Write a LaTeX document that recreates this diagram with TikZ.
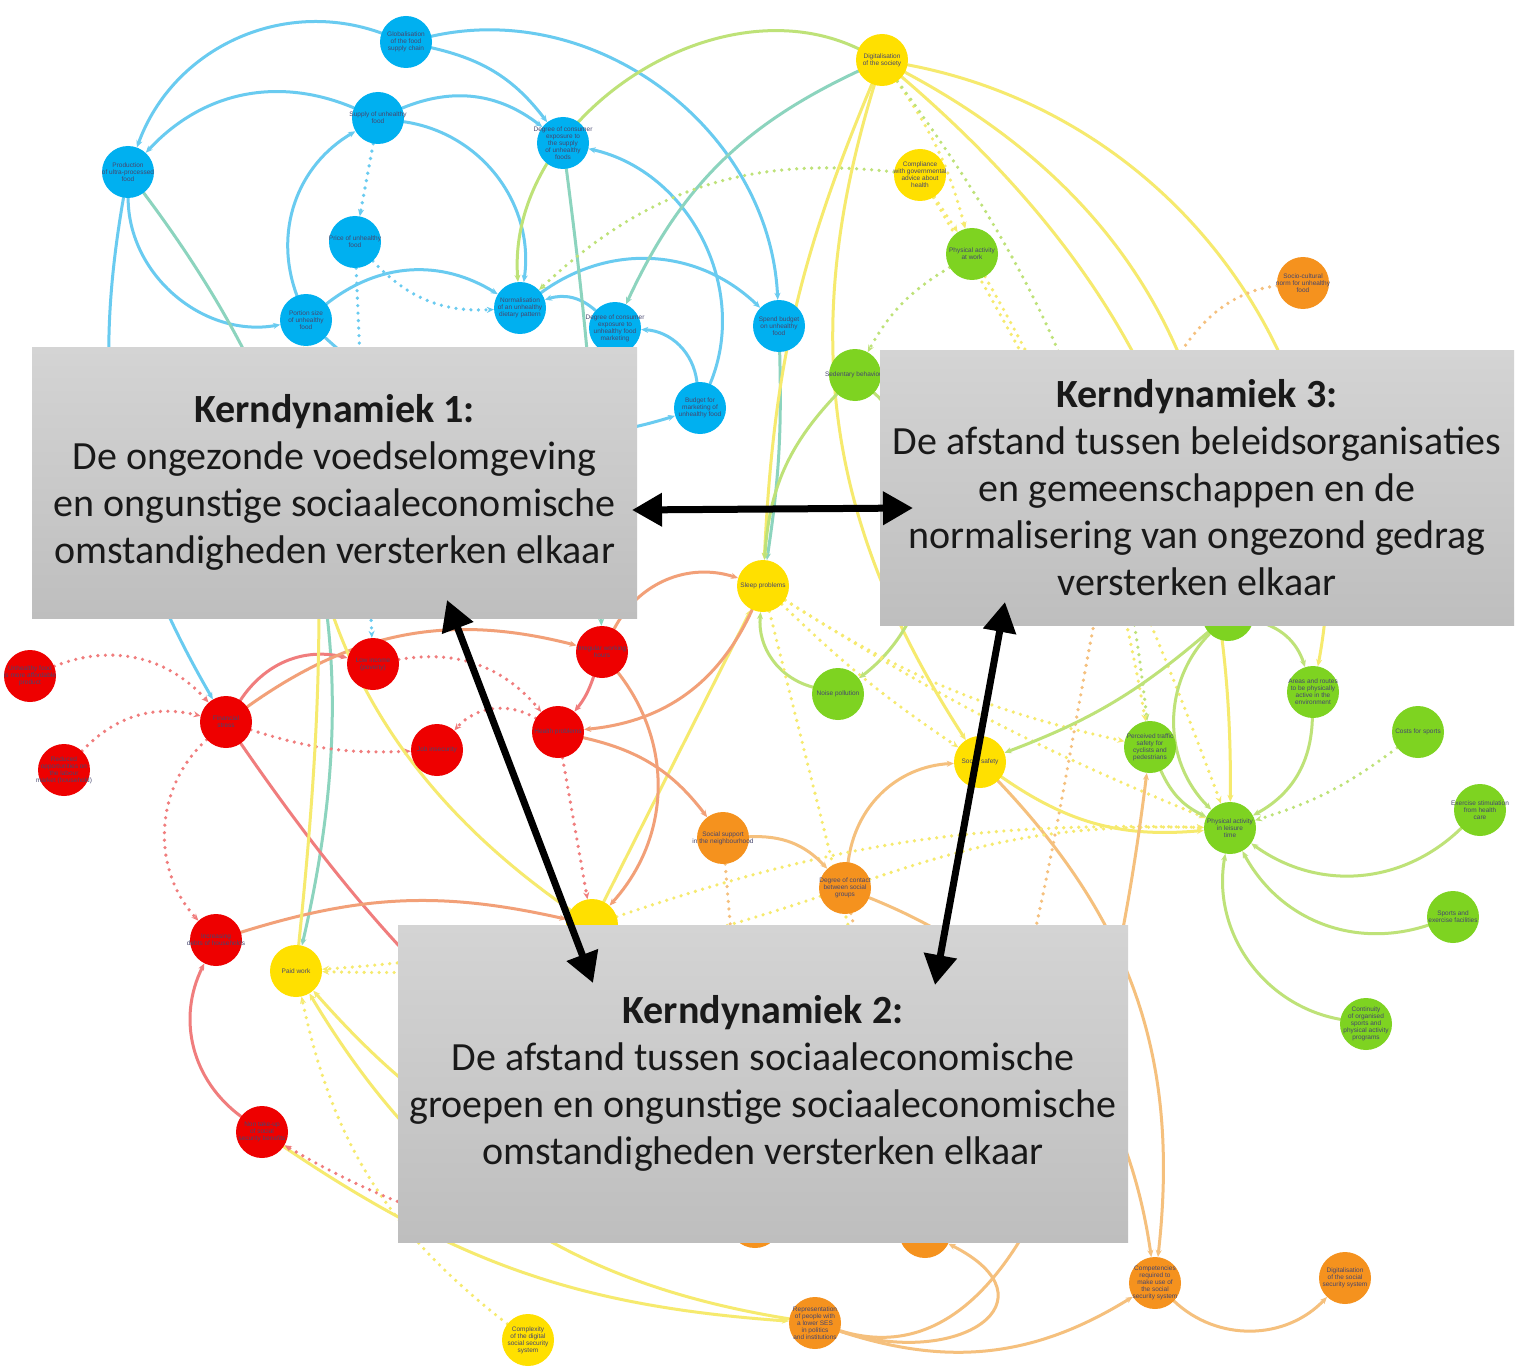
\documentclass[tikz,border=0pt]{standalone}
\usepackage{fontspec}
\setmainfont{Carlito}
\newfontfamily\lblfont{Liberation Sans}
\usetikzlibrary{arrows.meta}
\pgfdeclarelayer{bg}
\pgfdeclarelayer{edges}
\pgfsetlayers{bg,edges,main}
\definecolor{nb}{RGB}{0,176,240}
\definecolor{ny}{RGB}{255,224,0}
\definecolor{ng}{RGB}{126,211,33}
\definecolor{no}{RGB}{245,146,30}
\definecolor{nr}{RGB}{238,0,0}
\definecolor{eb}{RGB}{105,203,240}
\definecolor{ey}{RGB}{246,234,110}
\definecolor{eg}{RGB}{190,226,120}
\definecolor{er}{RGB}{240,125,125}
\definecolor{eo}{RGB}{245,192,125}
\definecolor{et}{RGB}{140,212,190}
\definecolor{es}{RGB}{242,160,120}
\definecolor{lblc}{RGB}{70,70,110}
\definecolor{boxtop}{RGB}{212,212,212}
\definecolor{boxbot}{RGB}{190,190,190}
\tikzset{
  circ/.style={circle, minimum size=52pt, inner sep=0pt, draw=none},
  lbl/.style={font=\lblfont\fontsize{6.5}{7}\selectfont, text=lblc, align=center, inner sep=0pt},
  lnk/.style={line width=3pt, -{Stealth[length=7pt,width=6pt]}, line cap=round},
  dlnk/.style={line width=3.6pt, dash pattern=on 0pt off 7.5pt, line cap=round, -{Stealth[length=7pt,width=6pt]}},
  be/.style={lnk, draw=eb}, bd/.style={dlnk, draw=eb},
  ye/.style={lnk, draw=ey}, yd/.style={dlnk, draw=ey},
  ge/.style={lnk, draw=eg}, gd/.style={dlnk, draw=eg},
  re/.style={lnk, draw=er}, rd/.style={dlnk, draw=er},
  oe/.style={lnk, draw=eo}, od/.style={dlnk, draw=eo},
  te/.style={lnk, draw=et}, se/.style={lnk, draw=es},
  kbox/.style={rectangle, inner sep=0pt, top color=boxtop, bottom color=boxbot, draw=none, align=center, text={rgb,255:red,25;green,25;blue,25}, font=\fontsize{40}{47}\selectfont},
  bigarrow/.style={line width=7pt, {Triangle[length=30pt,width=32pt]}-{Triangle[length=30pt,width=32pt]}}
}
\newcommand\mkcirc[4]{\node[circ, fill=#1] (#2) at (#3) {}; \node[lbl] (#2t) at (#3) {#4};}
\begin{document}
\begin{tikzpicture}[x=1pt,y=-1pt]
\begin{pgfonlayer}{bg}
\fill[white] (0,0) rectangle (1524,1367);
\end{pgfonlayer}
\useasboundingbox (0,0) rectangle (1524,1367);

% ---- blue nodes
\mkcirc{nb}{b1}{406,42}{Globalisation\\of the food\\supply chain}
\mkcirc{nb}{b2}{128,172}{Production\\of ultra-processed\\food}
\mkcirc{nb}{b3}{378,118}{Supply of unhealthy\\food}
\mkcirc{nb}{b4}{563,143}{Degree of consumer\\exposure to\\the supply\\of unhealthy\\foods}
\mkcirc{nb}{b5}{355,242}{Price of unhealthy\\food}
\mkcirc{nb}{b6}{306,320}{Portion size\\of unhealthy\\food}
\mkcirc{nb}{b7}{520,308}{Normalisation\\of an unhealthy\\dietary pattern}
\mkcirc{nb}{b8}{615,328}{Degree of consumer\\exposure to\\unhealthy food\\marketing}
\mkcirc{nb}{b9}{779,326}{Spend budget\\on unhealthy\\food}
\mkcirc{nb}{b10}{700,408}{Budget for\\marketing of\\unhealthy food}
% ---- yellow nodes
\mkcirc{ny}{y1}{882,60}{Digitalisation\\of the society}
\mkcirc{ny}{y2}{920,175}{Compliance\\with governmental\\advice about\\health}
\mkcirc{ny}{y3}{763,586}{Sleep problems}
\mkcirc{ny}{y4}{980,762}{Social safety}
\mkcirc{ny}{y5}{296,971}{Paid work}
\mkcirc{ny}{y6}{592,925}{}
\mkcirc{ny}{y7}{528,1340}{Complexity\\of the digital\\social security\\system}
% ---- green nodes
\mkcirc{ng}{g1}{972,254}{Physical activity\\at work}
\mkcirc{ng}{g2}{855,375}{Sedentary behaviour}
\mkcirc{ng}{g3}{1228,615}{}
\mkcirc{ng}{g4}{838,694}{Noise pollution}
\mkcirc{ng}{g5}{1313,692}{Areas and routes\\to be physically\\active in the\\environment}
\mkcirc{ng}{g6}{1150,747}{Perceived traffic\\safety for\\cyclists and\\pedestrians}
\mkcirc{ng}{g7}{1418,732}{Costs for sports}
\mkcirc{ng}{g8}{1230,828}{Physical activity\\in leisure\\time}
\mkcirc{ng}{g9}{1480,810}{Exercise stimulation\\from health\\care}
\mkcirc{ng}{g10}{1453,917}{Sports and\\exercise facilities}
\mkcirc{ng}{g11}{1366,1024}{Continuity\\of organised\\sports and\\physical activity\\programs}
% ---- orange nodes
\mkcirc{no}{o1}{1303,283}{Socio-cultural\\norm for unhealthy\\food}
\mkcirc{no}{o2}{723,838}{Social support\\in the neighbourhood}
\mkcirc{no}{o3}{845,888}{Degree of contact\\between social\\groups}
\mkcirc{no}{o4}{755,1222}{}
\mkcirc{no}{o5}{925,1232}{}
\mkcirc{no}{o6}{815,1323}{Representation\\of people with\\a lower SES\\in politics\\and institutions}
\mkcirc{no}{o7}{1155,1283}{Competencies\\required to\\make use of\\the social\\security system}
\mkcirc{no}{o8}{1345,1278}{Digitalisation\\of the social\\security system}
% ---- red nodes
\mkcirc{nr}{r1}{30,676}{Unhealthy food\\is more affordable\\product}
\mkcirc{nr}{r2}{226,722}{Financial\\stress}
\mkcirc{nr}{r3}{64,770}{Reduced\\opportunities on\\the labour\\market (household)}
\mkcirc{nr}{r4}{373,664}{Low income\\(poverty)}
\mkcirc{nr}{r5}{602,652}{Irregular working\\hours}
\mkcirc{nr}{r6}{437,750}{Job insecurity}
\mkcirc{nr}{r7}{558,732}{Health problems}
\mkcirc{nr}{r8}{216,940}{Increasing\\debts of households}
\mkcirc{nr}{r9}{262,1132}{Non take-up\\of social\\security benefits}

\begin{pgfonlayer}{edges}
% blue
\draw[be] (b1) to[bend right=45] (b2);
\draw[be] (b3) to[bend right=35] (b2);
\draw[be] (b2) to[bend right=50] (b6);
\draw[be] (b3) to[bend left=45] (b7);
\draw[be] (b6) to[bend left=40] (b3);
\draw[bd] (b3) to (b5);
\draw[bd] (b5) to[bend right=25] (b7);
\draw[bd] (b5) to (r4);
\draw[be] (b6) to[bend left=35] (b7);
\draw[be] (b7) to[bend left=40] (b9);
\draw[be] (b1) to[bend left=50] (b9);
\draw[be] (b1) to[bend left=20] (b4);
\draw[be] (b3) to[bend left=30] (b4);
\draw[be] (b10) to[bend right=50] (b4);
\draw[be] (b10) to[bend right=40] (b8);
\draw[be] (b8) to[bend right=30] (b7);
\draw[be] (b6) to[bend right=30] (b10);
\draw[te] (b4) to[bend left=3] (r5);
\draw[te] (b9) to[bend left=5] (y3);
\draw[be] (b2) to[bend right=20] (r2);
\draw[te] (b2) to[bend left=25] (y5);
% top yellow / green
\draw[te] (y1) to[bend right=20] (b8);
\draw[ge] (y1) to[bend right=60] (b7);
\draw[gd] (y2) to[bend right=25] (b7);
\draw[ye] (y1) to[bend right=25] (y4);
\draw[ye] (y1) to[bend left=25] (g8);
\draw[ye] (y1) to[bend left=30] (g3);
\draw[ye] (y1) to[bend left=45] (g5);
\draw[yd] (y1) to[bend left=10] (g1);
\draw[gd] (y1) to[bend left=15] (g6);
\draw[ye] (y1) to[bend right=10] (y3);
\draw[yd] (y2) to (g1);
\draw[yd] (y2) to[bend left=5] (g8);
\draw[gd] (g1) to[bend right=15] (g2);
\draw[yd] (g1) to[bend left=10] (g6);
\draw[od] (o1) .. controls (1060,310) and (1110,900) .. (o5);
\draw[ge] (g2) to[bend right=20] (y3);
\draw[ge] (g2) to[bend left=50] (g4);
\draw[ge] (g4) to[bend left=40] (y3);
\draw[yd] (y3) to[bend right=10] (g6);
\draw[yd] (y3) to[bend right=5] (g8);
\draw[yd] (y3) to[bend right=5] (y4);
\draw[yd] (y3) to (o5);
\draw[ye] (y6) to (y3);
\draw[se] (r5) to[bend left=40] (y3);
\draw[se] (y3) to[bend left=30] (r7);
\draw[se] (r5) to[bend left=40] (y6);
% social safety
\draw[oe] (o3) to[bend left=40] (y4);
\draw[ye] (y4) to[bend right=20] (g8);
\draw[ge] (g3) to[bend left=10] (y4);
\draw[oe] (y4) to[bend left=25] (o7);
% leisure time physical activity
\draw[ge] (g6) to[bend right=20] (g8);
\draw[ge] (g5) to[bend left=30] (g8);
\draw[gd] (g7) to[bend left=10] (g8);
\draw[ge] (g9) to[bend left=40] (g8);
\draw[ge] (g10) to[bend left=40] (g8);
\draw[ge] (g11) to[bend left=45] (g8);
\draw[ge] (g3) to[bend right=45] (g8);
\draw[ge] (g3) to[bend left=30] (g5);
\draw[yd] (o3) to[bend left=10] (g8);
\draw[yd] (y6) to[bend left=10] (g8);
% orange
\draw[oe] (o2) to[bend left=25] (o3);
\draw[od] (o2) to (o4);
\draw[od] (o3) to (o5);
\draw[oe] (o3) to[bend left=30] (o7);
\draw[oe] (o6) .. controls (1000,1380) and (1100,1150) .. (g6);
\draw[oe] (o6) .. controls (960,1370) and (1060,1300) .. (o5);
\draw[oe] (o6) to[bend right=25] (o7);
\draw[oe] (o7) to[bend right=45] (o8);
\draw[ye] (r9) to[bend right=15] (o6);
\draw[yd] (y7) to[bend left=20] (y5);
% red
\draw[rd] (r1) to[bend left=35] (r2);
\draw[rd] (r3) to[bend left=30] (r2);
\draw[rd] (r2) to[bend right=45] (r8);
\draw[re] (r2) to[bend left=35] (r4);
\draw[rd] (r2) to[bend right=10] (r6);
\draw[rd] (r4) to[bend left=30] (r7);
\draw[rd] (r7) to[bend right=40] (r6);
\draw[re] (r5) to[bend left=10] (r7);
\draw[se] (r2) to[bend left=25] (r5);
\draw[re] (r2) to[bend right=12] (o4);
\draw[rd] (r7) to (y6);
\draw[se] (r7) to[bend left=20] (o2);
\draw[se] (r8) to[bend left=15] (y6);
\draw[re] (r9) to[bend left=40] (r8);
\draw[rd] (o4) to[bend left=20] (r9);
% paid work
\draw[ye] (y6) to[bend left=30] (b6);
\draw[ye] (o6) to[bend left=25] (y5);
\draw[ye] (o4) to[bend left=20] (y5);
\draw[yd] (y6) to[bend left=5] (y5);
\draw[yd] (o3) to[bend left=10] (y5);
\draw[ye] (y5) to[bend right=5] (b6);
\end{pgfonlayer}

% ---- core dynamics boxes
\node[kbox, minimum width=605pt, minimum height=271pt] (k1) at (334.5,482.5)
  {\textbf{Kerndynamiek 1:}\\De ongezonde voedselomgeving\\en ongunstige sociaaleconomische\\omstandigheden versterken elkaar};
\node[kbox, minimum width=634pt, minimum height=275pt] (k3) at (1197,487.5)
  {\textbf{Kerndynamiek 3:}\\De afstand tussen beleidsorganisaties\\en gemeenschappen en de\\normalisering van ongezond gedrag\\versterken elkaar};
\node[kbox, minimum width=730pt, minimum height=317pt] (k2) at (763,1083.5)
  {\textbf{Kerndynamiek 2:}\\De afstand tussen sociaaleconomische\\groepen en ongunstige sociaaleconomische\\omstandigheden versterken elkaar};

\coordinate (a13s) at (632,510);
\coordinate (a13e) at (913,508);
\coordinate (a12s) at (447,600);
\coordinate (a12e) at (593,983);
\coordinate (a32s) at (1005,602);
\coordinate (a32e) at (935,985);
\draw[bigarrow] (a13s) -- (a13e);
\draw[bigarrow] (a12s) -- (a12e);
\draw[bigarrow] (a32s) -- (a32e);
\end{tikzpicture}
\end{document}
